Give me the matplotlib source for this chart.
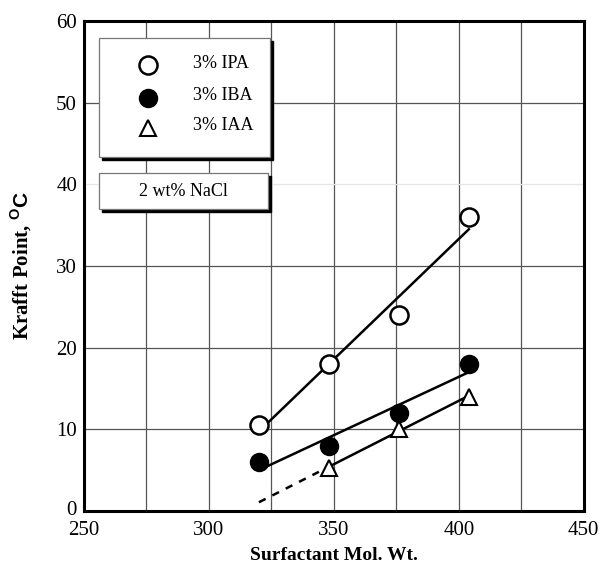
import numpy as np
import matplotlib.pyplot as plt
import matplotlib.transforms as mtransforms
from matplotlib.patches import Rectangle

plt.rcParams['font.family'] = 'Liberation Serif'
plt.rcParams['mathtext.fontset'] = 'custom'
plt.rcParams['mathtext.sf'] = 'Liberation Sans:bold'
plt.rcParams['mathtext.rm'] = 'Liberation Serif'

# data
ipa_x = [320, 348, 376, 404]
ipa_y = [10.5, 18.0, 24.0, 36.0]
iba_x = [320, 348, 376, 404]
iba_y = [6.0, 8.0, 12.0, 18.0]
iaa_x = [348, 376, 404]
iaa_y = [5.3, 10.0, 14.0]
labels = ['3% IPA', '3% IBA', '3% IAA']
note = '2 wt% NaCl'

fig = plt.figure(figsize=(6.0, 5.69), dpi=100)
ax = fig.add_axes([0.14, 0.102, 0.833, 0.861])
ax.set_xlim(250, 450)
ax.set_ylim(0, 60)
ax.set_xticks(np.arange(250, 451, 50))
ax.set_yticks(np.arange(0, 61, 10))

for gx in np.arange(275, 450, 25):
    ax.axvline(gx, color='#555555', lw=0.9, zorder=1)
for gy in [10, 20, 30, 50]:
    ax.axhline(gy, color='#555555', lw=0.9, zorder=1)
ax.axhline(40, color='#e6e6e6', lw=0.9, zorder=1)

for s in ax.spines.values():
    s.set_linewidth(2.2)
ax.tick_params(axis='y', length=0, labelsize=15, pad=5)
ax.tick_params(axis='x', length=0, labelsize=15, pad=7)

# fitted lines
p = np.polyfit(ipa_x, ipa_y, 1)
xs = np.array([ipa_x[0], ipa_x[-1]])
ax.plot(xs, np.polyval(p, xs), color='black', lw=1.8, zorder=2)
p = np.polyfit(iba_x, iba_y, 1)
xs = np.array([iba_x[0], iba_x[-1]])
ax.plot(xs, np.polyval(p, xs), color='black', lw=1.8, zorder=2)
p = np.polyfit(iaa_x, iaa_y, 1)
xs = np.array([iaa_x[0], iaa_x[-1]])
ax.plot(xs, np.polyval(p, xs), color='black', lw=1.8, zorder=2)
xs = np.array([ipa_x[0], iaa_x[0] - 4])
ax.plot(xs, np.polyval(p, xs), color='black', lw=1.8, ls=(0, (3, 3)), zorder=2)

ax.plot(ipa_x, ipa_y, 'o', ms=13, mfc='white', mec='black', mew=1.8, zorder=3)
ax.plot(iba_x, iba_y, 'o', ms=13, mfc='black', mec='black', zorder=3)
ax.plot(iaa_x, iaa_y, '^', ms=11, mfc='white', mec='black', mew=1.5, zorder=3)

ax.set_xlabel('Surfactant Mol. Wt.', fontsize=14, fontweight='bold', labelpad=5)
ax.set_ylabel(r'Krafft Point, $^{\mathsf{O}}\mathsf{C}$', fontsize=15, fontweight='bold', labelpad=16)

# the "0" sits a little above the axis in the reference
lab0 = ax.yaxis.get_major_ticks()[0].label1
lab0.set_transform(lab0.get_transform() + mtransforms.ScaledTranslation(0, 3 / 100, fig.dpi_scale_trans))

# legend box with shadow (figure pixel coords converted to fraction)
W, H = 600.0, 569.0
def box(x0, y0, x1, y1):
    sh = Rectangle((x0 + 3 / W, y0 - 3 / H), x1 - x0, y1 - y0, transform=fig.transFigure,
                   facecolor='black', edgecolor='black', zorder=5)
    bx = Rectangle((x0, y0), x1 - x0, y1 - y0, transform=fig.transFigure,
                   facecolor='white', edgecolor='#777777', lw=0.9, zorder=6)
    fig.patches.extend([sh, bx])

box(99 / W, 1 - 157 / H, 270 / W, 1 - 38 / H)
box(99 / W, 1 - 209 / H, 268 / W, 1 - 173 / H)

mk = [dict(marker='o', ms=13, mfc='white', mec='black', mew=1.8),
      dict(marker='o', ms=13, mfc='black', mec='black'),
      dict(marker='^', ms=11, mfc='white', mec='black', mew=1.5)]
rows = [65, 98, 128]
for lab, m, ry in zip(labels, mk, rows):
    fig.lines.append(plt.Line2D([148 / W], [1 - ry / H], transform=fig.transFigure,
                                ls='none', zorder=7, **m))
    fig.text(193 / W, 1 - (ry - 2) / H, lab, fontsize=13, va='center', zorder=7)
fig.text(183 / W, 1 - 191 / H, note, fontsize=13, ha='center', va='center', zorder=7)

fig.savefig('out.png', dpi=100)
